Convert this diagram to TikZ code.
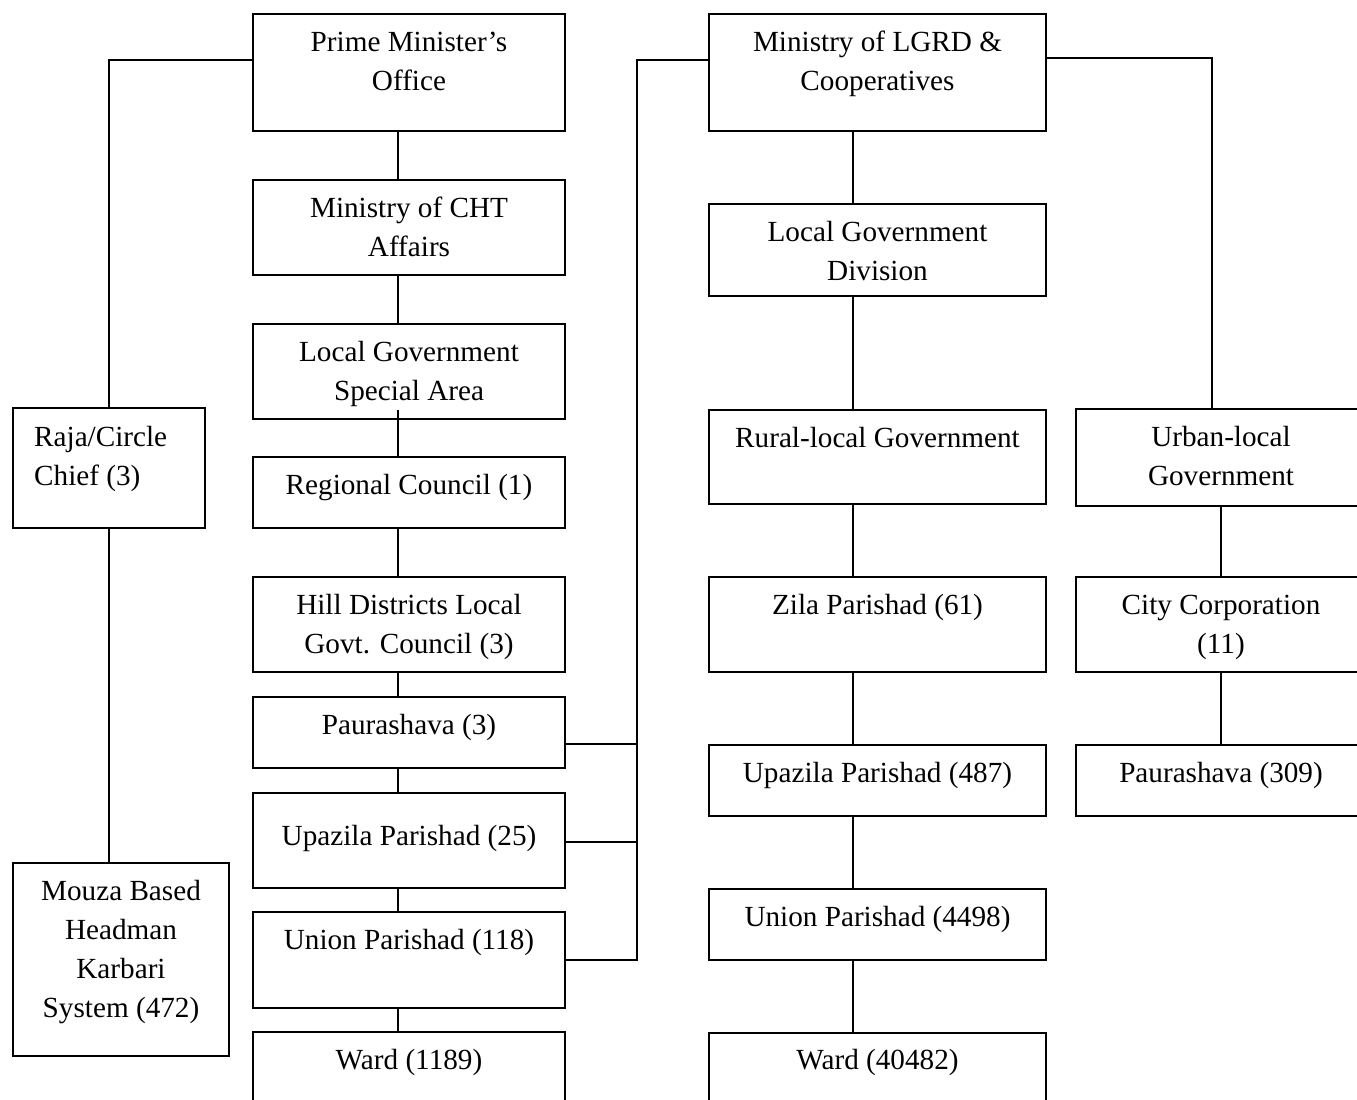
\documentclass[tikz,border=0pt]{standalone}
\usepackage{fontspec}
\setmainfont{Liberation Serif}
\usetikzlibrary{calc}
\newcommand\mytabc[1]{\begin{tabular}[t]{@{}c@{}}#1\end{tabular}}
\newcommand\mytabl[1]{\begin{tabular}[t]{@{}l@{}}#1\end{tabular}}
\begin{document}
\begin{tikzpicture}[x=1pt,y=-1pt,
  box/.style={draw, line width=1.8pt, rectangle, inner sep=0pt},
  txt/.style={inner sep=0pt, font=\fontsize{29.2}{39}\selectfont},
  conn/.style={line width=1.4pt}]
\clip (0,0) rectangle (1357,1100);
\fill[white] (0,0) rectangle (1357,1100);
% ---- middle column boxes
\node[box, minimum width=312pt, minimum height=117pt] (pmo) at (409,72.5) {};
\node[box, minimum width=312pt, minimum height=95pt] (cht) at (409,227.5) {};
\node[box, minimum width=312pt, minimum height=95pt] (lgsa) at (409,371.5) {};
\node[box, minimum width=312pt, minimum height=71pt] (rc) at (409,492.5) {};
\node[box, minimum width=312pt, minimum height=95pt] (hd) at (409,624.5) {};
\node[box, minimum width=312pt, minimum height=71pt] (p3) at (409,732.5) {};
\node[box, minimum width=312pt, minimum height=95pt] (u25) at (409,840.5) {};
\node[box, minimum width=312pt, minimum height=96pt] (un118) at (409,960) {};
\node[box, minimum width=312pt, minimum height=98pt] (w1189) at (409,1081) {};
% ---- left column
\node[box, minimum width=192pt, minimum height=120pt] (raja) at (109,468) {};
\node[box, minimum width=216pt, minimum height=193pt] (mouza) at (121,959.5) {};
% ---- LGRD column
\node[box, minimum width=337pt, minimum height=117pt] (lgrd) at (877.5,72.5) {};
\node[box, minimum width=337pt, minimum height=92pt] (lgd) at (877.5,250) {};
\node[box, minimum width=337pt, minimum height=94pt] (rural) at (877.5,457) {};
\node[box, minimum width=337pt, minimum height=95pt] (zila) at (877.5,624.5) {};
\node[box, minimum width=337pt, minimum height=71pt] (u487) at (877.5,780.5) {};
\node[box, minimum width=337pt, minimum height=71pt] (un4498) at (877.5,924.5) {};
\node[box, minimum width=337pt, minimum height=97pt] (w40482) at (877.5,1081.5) {};
% ---- right column
\node[box, minimum width=290pt, minimum height=97pt] (urban) at (1221,457.5) {};
\node[box, minimum width=290pt, minimum height=95pt] (city) at (1221,624.5) {};
\node[box, minimum width=290pt, minimum height=71pt] (p309) at (1221,780.5) {};
% ---- texts
\node[txt, anchor=base] (pmoT) at (409,51) {\mytabc{Prime Minister’s\\Office}};
\node[txt, anchor=base] (chtT) at (409,217) {\mytabc{Ministry of CHT\\Affairs}};
\node[txt, anchor=base] (lgsaT) at (409,361) {\mytabc{Local Government\\Special Area}};
\node[txt, anchor=base] (rcT) at (409,494) {Regional Council (1)};
\node[txt, anchor=base] (hdT) at (409,614) {\mytabc{Hill Districts Local\\Govt. Council (3)}};
\node[txt, anchor=base] (p3T) at (409,734) {Paurashava (3)};
\node[txt, anchor=base] (u25T) at (409,845) {Upazila Parishad (25)};
\node[txt, anchor=base] (un118T) at (409,949) {Union Parishad (118)};
\node[txt, anchor=base] (w1189T) at (409,1069) {Ward (1189)};
\node[txt, anchor=base west] (rajaT) at (34,446) {\mytabl{Raja/Circle\\Chief (3)}};
\node[txt, anchor=base] (mouzaT) at (121,900) {\mytabc{Mouza Based\\Headman\\Karbari\\System (472)}};
\node[txt, anchor=base] (lgrdT) at (877.5,51) {\mytabc{Ministry of LGRD \&\\Cooperatives}};
\node[txt, anchor=base] (lgdT) at (877.5,241) {\mytabc{Local Government\\Division}};
\node[txt, anchor=base] (ruralT) at (877.5,447) {Rural-local Government};
\node[txt, anchor=base] (zilaT) at (877.5,614) {Zila Parishad (61)};
\node[txt, anchor=base] (u487T) at (877.5,782) {Upazila Parishad (487)};
\node[txt, anchor=base] (un4498T) at (877.5,926) {Union Parishad (4498)};
\node[txt, anchor=base] (w40482T) at (877.5,1069) {Ward (40482)};
\node[txt, anchor=base] (urbanT) at (1221,446) {\mytabc{Urban-local\\Government}};
\node[txt, anchor=base] (cityT) at (1221,614) {\mytabc{City Corporation\\(11)}};
\node[txt, anchor=base] (p309T) at (1221,782) {Paurashava (309)};
% ---- connector coordinates
\coordinate (cA) at (398,0);
\coordinate (cB) at (853,0);
\coordinate (cU) at (1221,0);
\coordinate (cL) at (109,60);
\coordinate (bus) at (637,60);
\coordinate (cR) at (1212,58);
\coordinate (b1) at (637,744);
\coordinate (b2) at (637,842);
\coordinate (b3) at (637,960);
% ---- middle column connectors
\draw[conn] (cA |- pmo.south) -- (cA |- cht.north);
\draw[conn] (cA |- cht.south) -- (cA |- lgsa.north);
\draw[conn] ($(cA |- lgsa.south)+(0,-10)$) -- (cA |- rc.north);
\draw[conn] (cA |- rc.south) -- (cA |- hd.north);
\draw[conn] (cA |- hd.south) -- (cA |- p3.north);
\draw[conn] (cA |- p3.south) -- (cA |- u25.north);
\draw[conn] (cA |- u25.south) -- (cA |- un118.north);
\draw[conn] (cA |- un118.south) -- (cA |- w1189.north);
% ---- left connectors
\draw[conn] (pmo.west |- cL) -- (cL) -- (cL |- raja.north);
\draw[conn] (cL |- raja.south) -- (cL |- mouza.north);
% ---- LGRD bus to CHT local bodies
\draw[conn] (lgrd.west |- bus) -- (bus) -- (b3) -- (un118.east |- b3);
\draw[conn] (p3.east |- b1) -- (b1);
\draw[conn] (u25.east |- b2) -- (b2);
% ---- LGRD column connectors
\draw[conn] (cB |- lgrd.south) -- (cB |- lgd.north);
\draw[conn] (cB |- lgd.south) -- (cB |- rural.north);
\draw[conn] (cB |- rural.south) -- (cB |- zila.north);
\draw[conn] (cB |- zila.south) -- (cB |- u487.north);
\draw[conn] (cB |- u487.south) -- (cB |- un4498.north);
\draw[conn] (cB |- un4498.south) -- (cB |- w40482.north);
% ---- urban branch
\draw[conn] (lgrd.east |- cR) -- (cR) -- (cR |- urban.north);
\draw[conn] (cU |- urban.south) -- (cU |- city.north);
\draw[conn] (cU |- city.south) -- (cU |- p309.north);
\end{tikzpicture}
\end{document}
